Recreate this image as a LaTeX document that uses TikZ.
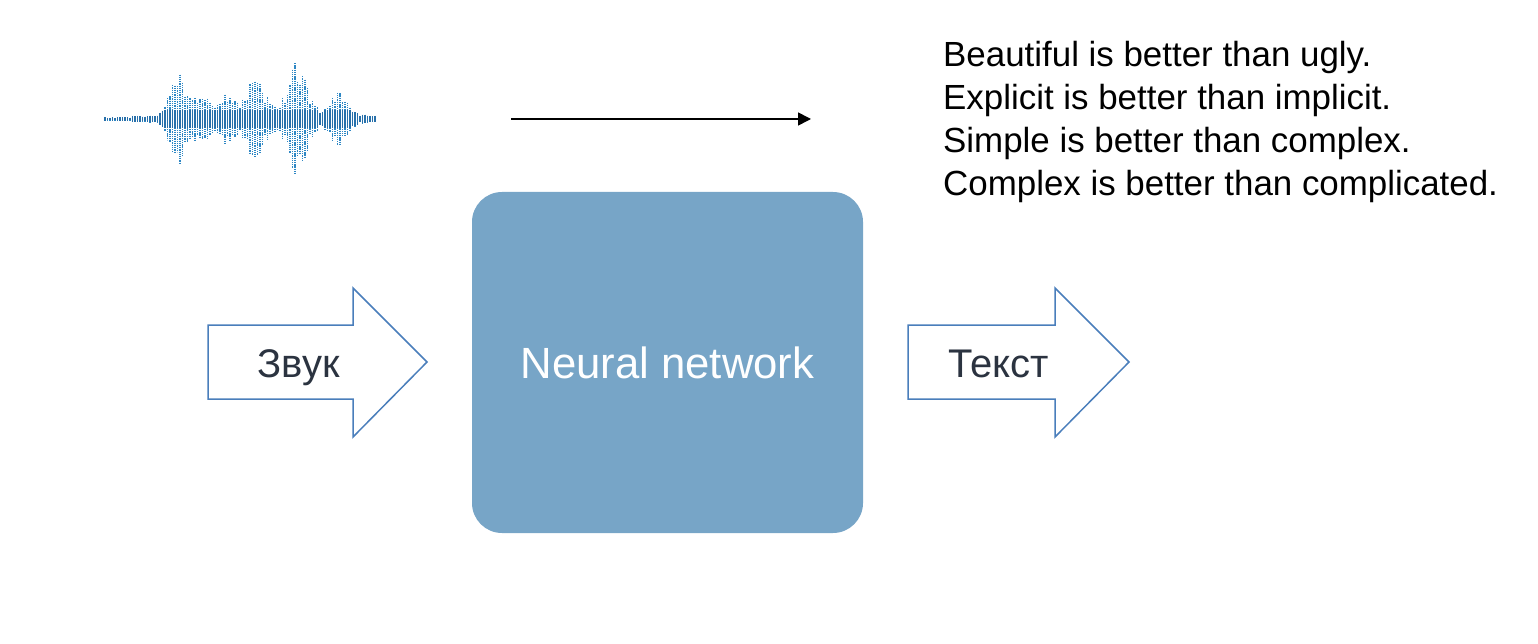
\documentclass[tikz,border=0pt]{standalone}
\usepackage{fontspec}
\setmainfont{Liberation Sans}
\usetikzlibrary{arrows.meta}
\definecolor{boxblue}{RGB}{119,165,199}
\definecolor{arrowedge}{RGB}{74,126,187}
\definecolor{labelgray}{RGB}{43,51,64}
\definecolor{waveblue}{RGB}{46,135,196}
\definecolor{wavedark}{RGB}{40,112,170}
\begin{document}
\begin{tikzpicture}[x=1pt,y=-1pt,
  blockarrow/.style={draw=arrowedge,line width=1.5pt,fill=white,line join=miter},
  arrowlabel/.style={font=\fontsize{40}{48}\selectfont,text=labelgray,inner sep=0pt,anchor=base},
  zenline/.style={font=\fontsize{34.9}{41}\selectfont,text=black,anchor=base west,inner sep=0pt},
  nnbox/.style={fill=boxblue,rounded corners=30pt,draw=none},
  wavebar/.style={waveblue,line width=1.6pt,dash pattern=on 1.3pt off 0.9pt}
]
\useasboundingbox (0,0) rectangle (1538,644);
% waveform
\pgfmathsetseed{7}
\foreach \x in {105,107.5,...,376}{
  \pgfmathsetmacro{\env}{2+ (\x>132)*2 + (\x>162)*4
    + 38*exp(max(-30,-((\x-178)/11)^2))
    + 22*exp(max(-30,-((\x-202)/8)^2))
    + 22*exp(max(-30,-((\x-227)/9)^2))
    + 36*exp(max(-30,-((\x-256)/12)^2))
    + 56*exp(max(-30,-((\x-297)/12)^2))
    + 22*exp(max(-30,-((\x-338)/11)^2))
    - (\x>355)*3}
  \pgfmathsetmacro{\h}{\env*(0.55+0.45*rnd)}
  \pgfmathsetmacro{\hc}{min(\h,9)}
  \draw[wavebar] (\x,119-\h) -- (\x,119+\h);
  \draw[wavedark,line width=1.6pt] (\x,119-\hc) -- (\x,119+\hc);
}
% black arrow
\coordinate (ws) at (511,119);
\coordinate (we) at (811,119);
\draw[line width=1.6pt,-{Triangle[length=13pt,width=13pt]}] (ws) -- (we);
% zen text
\node[zenline] (z1) at (943,67) {Beautiful is better than ugly.};
\node[zenline] (z2) at (943,110) {Explicit is better than implicit.};
\node[zenline] (z3) at (943,153) {Simple is better than complex.};
\node[zenline] (z4) at (943,196) {Complex is better than complicated.};
% neural network box
\path[nnbox] (472,192) rectangle (863,533);
\node[font=\fontsize{43.7}{50}\selectfont,text=white,inner sep=0pt,anchor=base] (nn) at (667.5,378) {Neural network};
% input arrow
\draw[blockarrow] (208,325) -- (353,325) -- (353,288) -- (427,362) -- (353,437) -- (353,399) -- (208,399) -- cycle;
\node[arrowlabel] (zv) at (298.5,377) {Звук};
% output arrow
\draw[blockarrow] (908,325) -- (1055,325) -- (1055,288) -- (1129,362) -- (1055,437) -- (1055,399) -- (908,399) -- cycle;
\node[arrowlabel] (tx) at (998.5,377) {Текст};
\end{tikzpicture}
\end{document}
